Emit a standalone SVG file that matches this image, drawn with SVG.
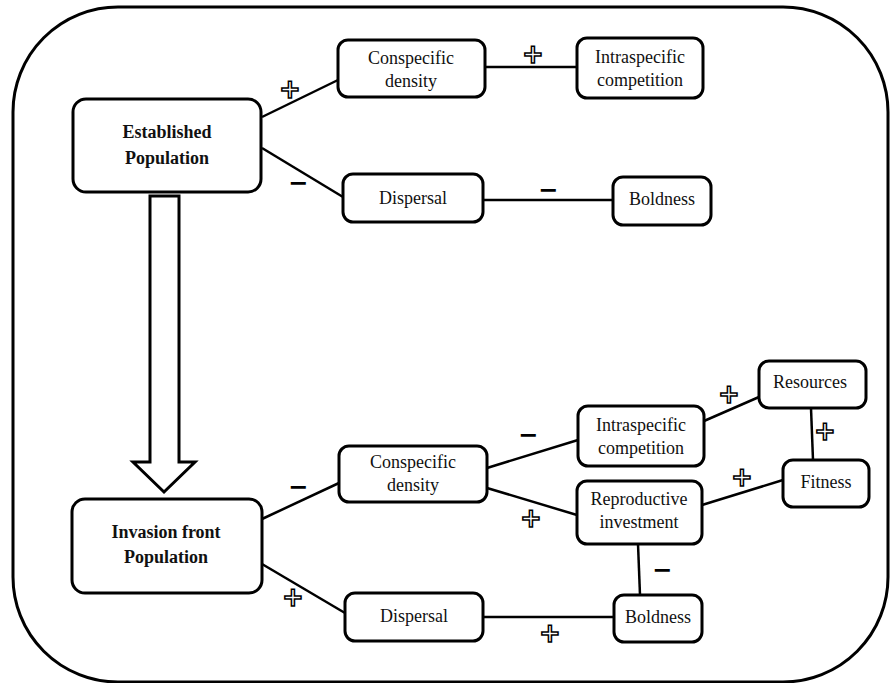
<svg xmlns="http://www.w3.org/2000/svg" width="891" height="683" viewBox="0 0 891 683">
<style>
.box{fill:#fff;stroke:#000;stroke-width:3}
.t{font-size:18px;fill:#111;text-anchor:middle}
.b{font-weight:bold}
.ln{stroke:#000;stroke-width:2.5;fill:none}
.plus{font-family:'DejaVu Sans',sans-serif;font-weight:bold;font-size:26px;fill:#fff;stroke:#000;stroke-width:1.5;text-anchor:middle}
.minus{font-family:'DejaVu Sans',sans-serif;font-weight:bold;font-size:24px;fill:#000;text-anchor:middle}
</style>
<rect width="891" height="683" fill="#fff"/>
<rect id="frame" x="13" y="7" width="875" height="675" rx="105" fill="none" stroke="#000" stroke-width="3"/>

<g id="connectors">
<line class="ln" x1="262" y1="117" x2="338" y2="80"/>
<line class="ln" x1="262" y1="148" x2="343" y2="197"/>
<line class="ln" x1="485" y1="67" x2="577" y2="67"/>
<line class="ln" x1="483" y1="200" x2="613" y2="200"/>
<line class="ln" x1="262" y1="519" x2="339" y2="483"/>
<line class="ln" x1="262" y1="564" x2="345" y2="613"/>
<line class="ln" x1="487" y1="468" x2="578" y2="440"/>
<line class="ln" x1="487" y1="488" x2="577" y2="515"/>
<line class="ln" x1="704" y1="421" x2="759" y2="397"/>
<line class="ln" x1="811" y1="408" x2="813" y2="460"/>
<line class="ln" x1="702" y1="505" x2="783" y2="480"/>
<line class="ln" x1="638" y1="544" x2="640" y2="595"/>
<line class="ln" x1="483" y1="617" x2="614" y2="617"/>
<polygon id="bigArrow" points="150,196 179,196 179,462 195,462 164,492 133,462 150,462" fill="#fff" stroke="#000" stroke-width="3" stroke-linejoin="miter"/>
</g>

<g id="signs">
<text class="plus" x="290" y="98">+</text>
<text class="minus" x="298" y="191">−</text>
<text class="plus" x="533" y="63">+</text>
<text class="minus" x="548" y="198">−</text>
<text class="minus" x="298" y="495">−</text>
<text class="plus" x="293" y="606">+</text>
<text class="minus" x="528" y="443">−</text>
<text class="plus" x="531" y="527">+</text>
<text class="plus" x="729" y="403">+</text>
<text class="plus" x="825" y="440">+</text>
<text class="plus" x="742" y="486">+</text>
<text class="minus" x="662" y="578">−</text>
<text class="plus" x="550" y="642">+</text>
</g>

<g id="nodes" font-family="Liberation Serif, Times New Roman, serif">
<g id="established">
<rect class="box" x="73" y="99" width="188" height="93" rx="13"/>
<text class="t b" x="167" y="138">Established</text>
<text class="t b" x="167" y="164">Population</text>
</g>
<g id="consdens1">
<rect class="box" x="338" y="40" width="147" height="57" rx="10"/>
<text class="t" x="411" y="64">Conspecific</text>
<text class="t" x="411" y="87">density</text>
</g>
<g id="intra1">
<rect class="box" x="577" y="38" width="126" height="60" rx="10"/>
<text class="t" x="640" y="63">Intraspecific</text>
<text class="t" x="640" y="86">competition</text>
</g>
<g id="dispersal1">
<rect class="box" x="343" y="174" width="140" height="48" rx="10"/>
<text class="t" x="413" y="204">Dispersal</text>
</g>
<g id="boldness1">
<rect class="box" x="613" y="177" width="98" height="48" rx="10"/>
<text class="t" x="662" y="205">Boldness</text>
</g>

<g id="invasion">
<rect class="box" x="72" y="499" width="190" height="94" rx="13"/>
<text class="t b" x="166" y="538">Invasion front</text>
<text class="t b" x="166" y="563">Population</text>
</g>
<g id="consdens2">
<rect class="box" x="339" y="446" width="148" height="56" rx="10"/>
<text class="t" x="413" y="468">Conspecific</text>
<text class="t" x="413" y="491">density</text>
</g>
<g id="dispersal2">
<rect class="box" x="345" y="593" width="138" height="48" rx="10"/>
<text class="t" x="414" y="622">Dispersal</text>
</g>
<g id="intra2">
<rect class="box" x="578" y="406" width="126" height="60" rx="10"/>
<text class="t" x="641" y="431">Intraspecific</text>
<text class="t" x="641" y="454">competition</text>
</g>
<g id="repro">
<rect class="box" x="577" y="481" width="125" height="63" rx="10"/>
<text class="t" x="639" y="505">Reproductive</text>
<text class="t" x="639" y="528">investment</text>
</g>
<g id="resources">
<rect class="box" x="759" y="361" width="107" height="47" rx="10"/>
<text class="t" x="810" y="388">Resources</text>
</g>
<g id="fitness">
<rect class="box" x="783" y="460" width="86" height="47" rx="10"/>
<text class="t" x="826" y="488">Fitness</text>
</g>
<g id="boldness2">
<rect class="box" x="614" y="595" width="88" height="47" rx="10"/>
<text class="t" x="658" y="623">Boldness</text>
</g>
</g>
</svg>
